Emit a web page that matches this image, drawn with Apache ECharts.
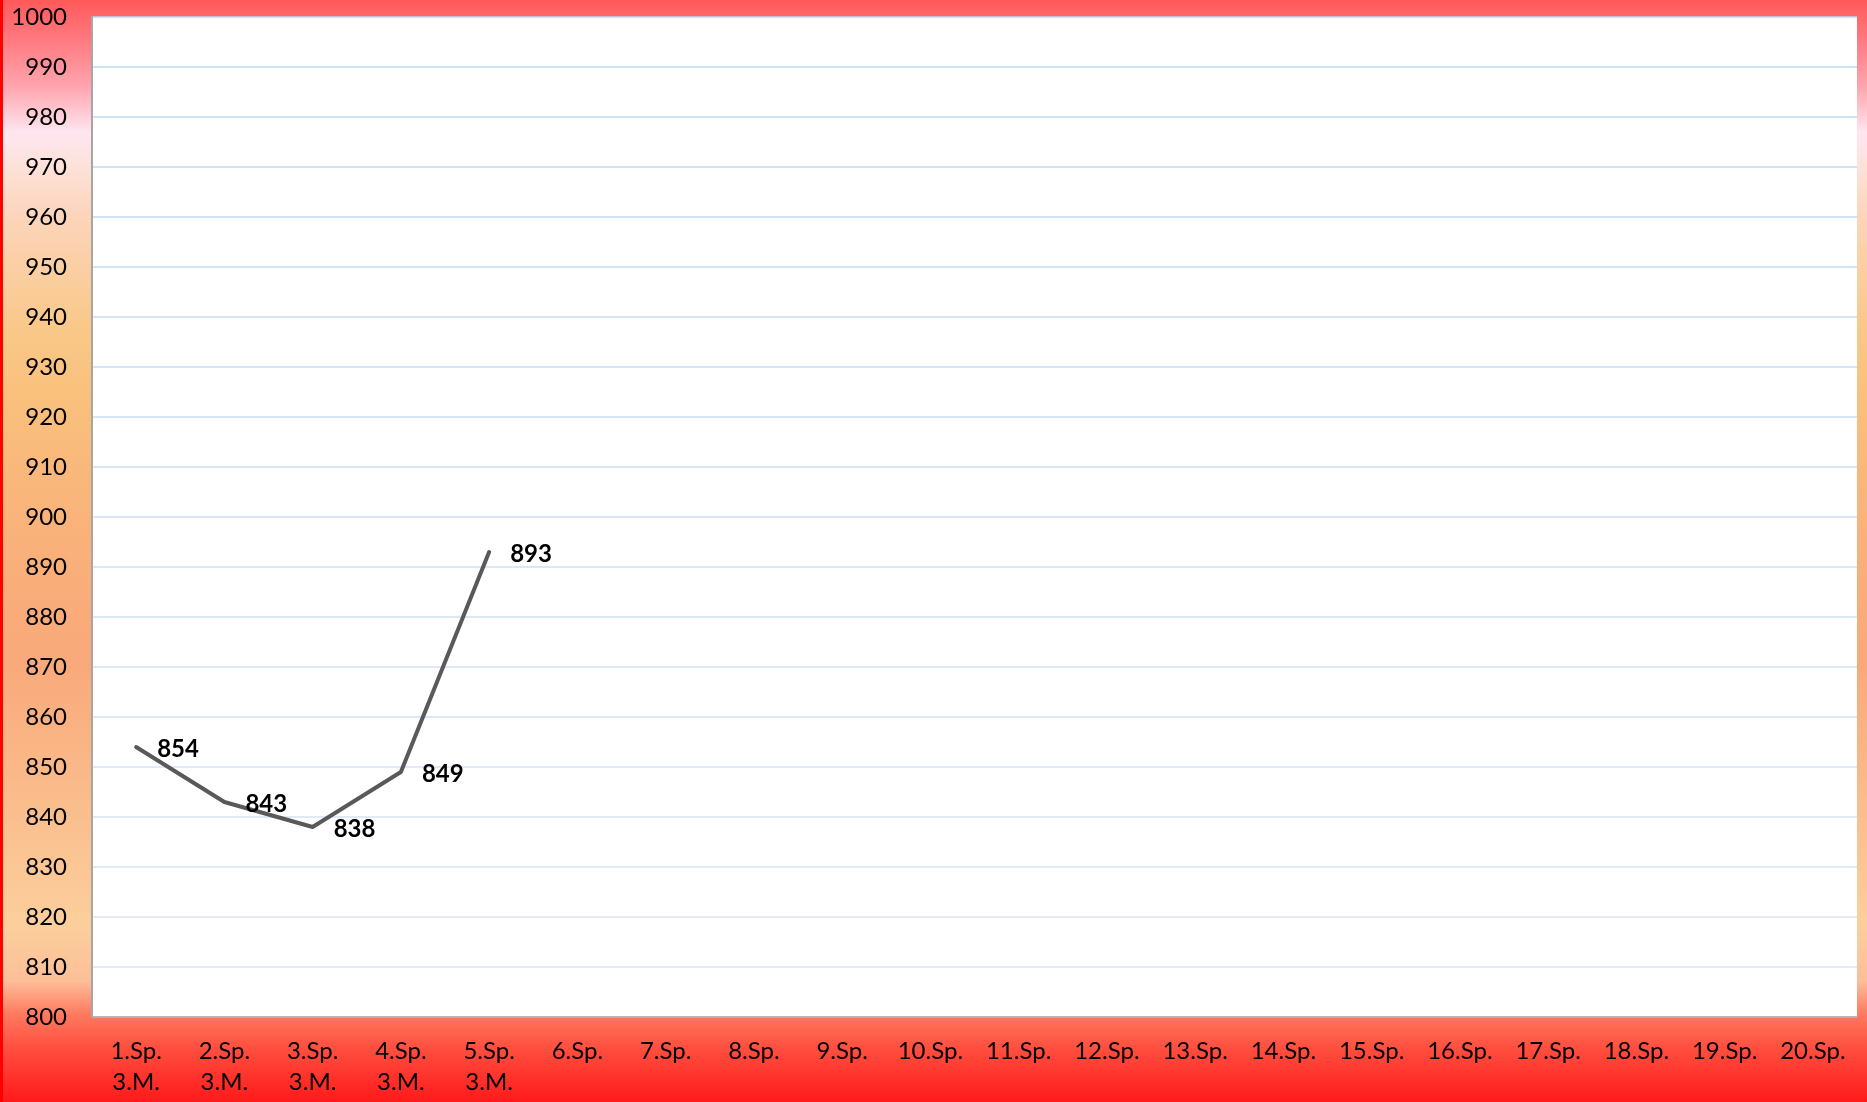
<!DOCTYPE html>
<html>
<head>
<meta charset="utf-8">
<script src="https://cdn.jsdelivr.net/npm/echarts@6/dist/echarts.min.js"></script>
<style>
  html, body { margin: 0; padding: 0; width: 1867px; height: 1102px; overflow: hidden; }
  #chart { width: 1867px; height: 1102px; }
</style>
</head>
<body>
<div id="chart"></div>
<script>
// ---- data ----
const categories = [
  '1.Sp.\n3.M.', '2.Sp.\n3.M.', '3.Sp.\n3.M.', '4.Sp.\n3.M.', '5.Sp.\n3.M.',
  '6.Sp.', '7.Sp.', '8.Sp.', '9.Sp.', '10.Sp.',
  '11.Sp.', '12.Sp.', '13.Sp.', '14.Sp.', '15.Sp.',
  '16.Sp.', '17.Sp.', '18.Sp.', '19.Sp.', '20.Sp.'
];
const values = [854, 843, 838, 849, 893];
const yMin = 800;
const yMax = 1000;
const yStep = 10;

// ---- chart ----
const chart = echarts.init(document.getElementById('chart'));
const FONT = 'Lato, "Liberation Sans", sans-serif';

const gridColors = [];
const nLines = (yMax - yMin) / yStep + 1;
for (let i = 0; i < nLines; i++) {
  const t = i / (nLines - 1);
  const r = Math.round(220 - t * (220 - 188));
  const g = Math.round(230 - t * (230 - 214));
  const b = Math.round(244 - t * (244 - 243));
  gridColors.push('rgb(' + r + ',' + g + ',' + b + ')');
}

const option = {
  animation: false,
  backgroundColor: {
    type: 'linear', x: 0, y: 0, x2: 0, y2: 1,
    colorStops: [
      { offset: 0.00, color: '#ff5959' },
      { offset: 0.04, color: '#ff7d84' },
      { offset: 0.08, color: '#ffa6b0' },
      { offset: 0.12, color: '#fde6f0' },
      { offset: 0.15, color: '#fde2da' },
      { offset: 0.20, color: '#fcd4b8' },
      { offset: 0.30, color: '#f9c888' },
      { offset: 0.36, color: '#f9c07c' },
      { offset: 0.50, color: '#f9b07a' },
      { offset: 0.60, color: '#f9a97a' },
      { offset: 0.70, color: '#fab888' },
      { offset: 0.84, color: '#fbcf9c' },
      { offset: 0.89, color: '#fcbf98' },
      { offset: 0.92, color: '#ff7a60' },
      { offset: 0.95, color: '#ff5040' },
      { offset: 1.00, color: '#ff1a1a' }
    ]
  },
  textStyle: { fontFamily: FONT },
  graphic: [
    { type: 'rect', left: 0, top: 0, shape: { width: 3, height: 1102 }, style: { fill: '#ff0000' }, z: 100 }
  ],
  grid: {
    left: 92, top: 17, right: 10, bottom: 85,
    show: true, backgroundColor: '#ffffff', borderWidth: 0
  },
  xAxis: {
    type: 'category',
    data: categories,
    boundaryGap: true,
    axisLine: { show: true, lineStyle: { color: '#a6a6a6', width: 1.5 } },
    axisTick: { show: false },
    splitLine: { show: false },
    axisLabel: {
      interval: 0,
      margin: 19,
      color: '#000000',
      fontSize: 24,
      lineHeight: 31,
      fontFamily: FONT
    }
  },
  yAxis: {
    type: 'value',
    min: yMin,
    max: yMax,
    interval: yStep,
    axisLine: { show: true, lineStyle: { color: '#a6a6a6', width: 2 } },
    axisTick: { show: false },
    splitLine: { show: true, lineStyle: { color: gridColors, width: 1.5 } },
    axisLabel: {
      margin: 25,
      color: '#000000',
      fontSize: 24,
      fontFamily: FONT,
      formatter: function (v) { return String(v); }
    }
  },
  series: [{
    type: 'line',
    data: values,
    showSymbol: true,
    symbol: 'circle',
    symbolSize: 2,
    itemStyle: { color: '#595959' },
    smooth: false,
    lineStyle: { color: '#595959', width: 4, cap: 'round', join: 'round' },
    label: {
      show: true,
      position: 'right',
      distance: 20,
      offset: [0, 2],
      color: '#000000',
      fontWeight: 'bold',
      fontSize: 24,
      fontFamily: FONT
    }
  }]
};

chart.setOption(option);
</script>
</body>
</html>
